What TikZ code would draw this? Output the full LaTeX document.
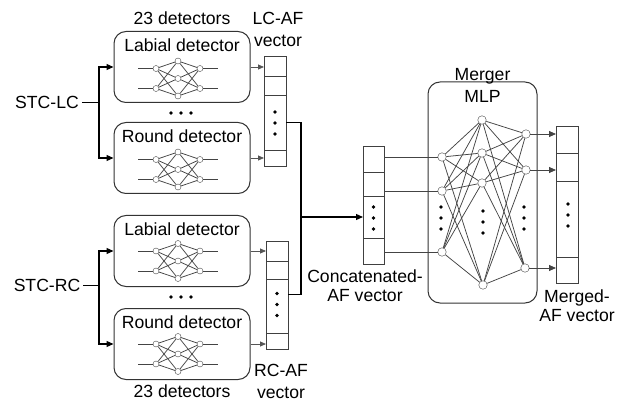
\documentclass[tikz,border=0pt]{standalone}
\usepackage{fontspec}
\setmainfont{Liberation Sans}
\usetikzlibrary{arrows.meta, positioning}

\definecolor{linegray}{HTML}{444444}
\definecolor{tipgray}{HTML}{555555}

% small network inside a detector box: #1 prefix, (#2,#3) centre
\newcommand{\detnet}[3]{%
  \begin{scope}[shift={(#2,#3)}]
    \node[neuron] (#1i1) at (-22,-10) {};
    \node[neuron] (#1i2) at (-22,10) {};
    \node[neuron] (#1h1) at (0,-17.5) {};
    \node[neuron] (#1h2) at (0,0) {};
    \node[neuron] (#1h3) at (0,17.5) {};
    \node[neuron] (#1o1) at (22,-10) {};
    \node[neuron] (#1o2) at (22,10) {};
    \coordinate (#1l1) at (-40,-10);
    \coordinate (#1l2) at (-40,10);
    \coordinate (#1r1) at (40,-10);
    \coordinate (#1r2) at (40,10);
    \foreach \i in {1,2} {
      \draw[netline] (#1l\i) -- (#1i\i);
      \draw[netline] (#1o\i) -- (#1r\i);
      \foreach \j in {1,2,3} {
        \draw[netline] (#1i\i) -- (#1h\j);
        \draw[netline] (#1h\j) -- (#1o\i);
      }
    }
  \end{scope}}

% three dots stacked at (#1,#2)
\newcommand{\vdotsat}[2]{%
  \foreach \d in {-11,0,11} \fill (#1,#2+\d) circle (1.8);}

\begin{document}
\begin{tikzpicture}[
  x=1pt, y=-1pt,
  font=\fontsize{17.6}{19}\selectfont,
  inner sep=3pt,
  detbox/.style = {draw=black!80, line width=1pt, rounded corners=12pt, minimum width=136pt, minimum height=71pt},
  mlpbox/.style = {draw=black!80, line width=1pt, rounded corners=12pt, minimum width=109pt, minimum height=221pt},
  cell/.style = {draw=black!75, line width=0.9pt, minimum width=22pt, inner sep=0pt, outer sep=0pt},
  neuron/.style = {circle, draw=linegray, fill=white, inner sep=0pt, minimum size=6pt},
  mlpneuron/.style = {circle, draw=linegray, fill=white, inner sep=0pt, minimum size=8.5pt},
  netline/.style = {draw=linegray, line width=0.75pt},
  stcline/.style = {line width=1.2pt},
  stcarrow/.style = {-{Triangle[length=7pt, width=6pt]}, line width=1.2pt},
  afarrow/.style = {-{Triangle[length=6pt, width=5pt]}, draw=tipgray, line width=0.8pt},
  outarrow/.style = {-{Triangle[length=7pt, width=6pt]}, draw=linegray, line width=0.8pt},
  twoline/.style = {align=center, font=\fontsize{17.6}{22}\selectfont}
]
\useasboundingbox (0,0) rectangle (623,403);

% Detector boxes, left-context group
\node[detbox] (lab1) at (182,67) {};
\node[detbox] (rnd1) at (182,158) {};
\node[below=4.6pt of lab1.north] (lab1t) {Labial detector};
\node[below=4.6pt of rnd1.north] (rnd1t) {Round detector};
\detnet{lab1}{178}{78.5}
\detnet{rnd1}{178}{169.5}

% Detector boxes, right-context group
\node[detbox] (lab2) at (182,251) {};
\node[detbox] (rnd2) at (182,344) {};
\node[below=4.6pt of lab2.north] (lab2t) {Labial detector};
\node[below=4.6pt of rnd2.north] (rnd2t) {Round detector};
\detnet{lab2}{178}{261}
\detnet{rnd2}{178}{354}

\foreach \x in {171,181,191} {
  \fill (\x,113) circle (1.9);
  \fill (\x,297) circle (1.9);
}

\node[above=3.5pt of lab1] (numtop) {23 detectors};
\node[below=3pt of rnd2, inner sep=2pt] (numbot) {23 detectors};

% Inputs
\node (stclc) at (47,102.5) {STC-LC};
\node (stcrc) at (47,285.5) {STC-RC};
\coordinate (lcsplit) at (99,102.5);
\coordinate (rcsplit) at (99,285.5);
\draw[stcline] (stclc) -- (lcsplit);
\draw[stcarrow] (lcsplit) |- (lab1.west);
\draw[stcarrow] (lcsplit) |- (rnd1.west);
\draw[stcline] (stcrc) -- (rcsplit);
\draw[stcarrow] (rcsplit) |- (lab2.west);
\draw[stcarrow] (rcsplit) |- (rnd2.west);

% LC-AF vector
\node[cell, minimum height=20pt] (lc1) at (275,66) {};
\node[cell, minimum height=19pt, below=0pt of lc1] (lc2) {};
\node[cell, minimum height=55pt, below=0pt of lc2] (lc3) {};
\node[cell, minimum height=16pt, below=0pt of lc3] (lc4) {};
\vdotsat{275}{123}
\node[twoline] (lclab) at (278,29.3) {LC-AF\\vector};

% RC-AF vector
\node[cell, minimum height=20pt] (rc1) at (277,251) {};
\node[cell, minimum height=18pt, below=0pt of rc1] (rc2) {};
\node[cell, minimum height=54pt, below=0pt of rc2] (rc3) {};
\node[cell, minimum height=16pt, below=0pt of rc3] (rc4) {};
\vdotsat{277}{304.5}
\node[twoline, inner sep=2pt] (rclab) at (281,381.5) {RC-AF\\vector};

% Detectors to vectors
\draw[afarrow] (lab1.east) -- (lab1.east -| lc1.west);
\draw[afarrow] (rnd1.east) -- (rnd1.east -| lc4.west);
\draw[afarrow] (lab2.east) -- (lab2.east -| rc1.west);
\draw[afarrow] (rnd2.east) -- (rnd2.east -| rc4.west);

% Concatenated-AF vector
\node[cell, minimum width=21pt, minimum height=26pt] (cc1) at (373.5,159) {};
\node[cell, minimum width=21pt, minimum height=24pt, below=0pt of cc1] (cc2) {};
\node[cell, minimum width=21pt, minimum height=42pt, below=0pt of cc2] (cc3) {};
\node[cell, minimum width=21pt, minimum height=26pt, below=0pt of cc3] (cc4) {};
\vdotsat{373.5}{218}
\node[twoline, font=\fontsize{17.6}{19}\selectfont] (cclab) at (365,286.2) {Concatenated-\\AF vector};

% Concatenation
\coordinate (bus) at (301,217);
\draw[stcline] (lc3.east) -| (bus) |- (rc3.47);
\draw[stcarrow] (bus) -- (cc3.west);

% Merger MLP
\node[mlpbox] (mlp) at (482.5,192.5) {};
\node[twoline] (mlplab) at (482.5,85.7) {Merger\\MLP};

\node[mlpneuron] (in1) at (442,157) {};
\node[mlpneuron] (in2) at (442,191) {};
\node[mlpneuron] (in3) at (442,252) {};
\node[mlpneuron] (hd1) at (482,120) {};
\node[mlpneuron] (hd2) at (482,153) {};
\node[mlpneuron] (hd3) at (482,183) {};
\node[mlpneuron] (hd4) at (483,285) {};
\node[mlpneuron] (out1) at (526,134) {};
\node[mlpneuron] (out2) at (526,170) {};
\node[mlpneuron] (out3) at (525,268) {};
\foreach \i in {1,2,3}
  \foreach \j in {1,...,4}
    \draw[netline] (in\i) -- (hd\j);
\foreach \j in {1,...,4}
  \foreach \k in {1,2,3}
    \draw[netline] (hd\j) -- (out\k);
\vdotsat{441}{218}
\vdotsat{483}{222}
\vdotsat{524}{218}

% Vector into MLP
\draw[netline] (in1 -| cc1.east) -- (in1);
\draw[netline] (in2 -| cc2.east) -- (in2);
\draw[netline] (in3 -| cc4.east) -- (in3);

% Merged-AF vector
\node[cell, minimum height=27pt] (mg1) at (567,139.5) {};
\node[cell, minimum height=28pt, below=0pt of mg1] (mg2) {};
\node[cell, minimum height=76pt, below=0pt of mg2] (mg3) {};
\node[cell, minimum height=26pt, below=0pt of mg3] (mg4) {};
\vdotsat{568}{215}
\node[twoline, font=\fontsize{17.6}{19}\selectfont] (mglab) at (577,306.2) {Merged-\\AF vector};

\draw[outarrow] (out1) -- (out1 -| mg1.west);
\draw[outarrow] (out2) -- (out2 -| mg2.west);
\draw[outarrow] (out3) -- (out3 -| mg4.west);
\end{tikzpicture}
\end{document}
